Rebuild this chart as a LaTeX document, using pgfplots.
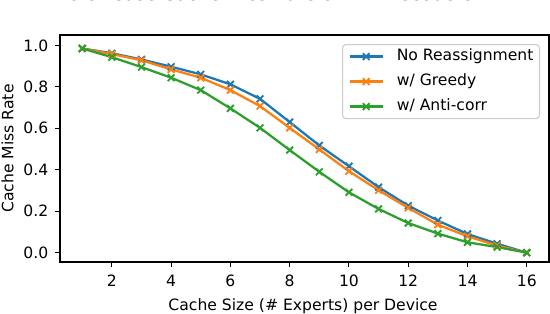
\documentclass[border=0pt]{standalone}
\usepackage{fontspec}
\setmainfont{DejaVu Sans}
\usepackage{pgfplots}
\pgfplotsset{compat=1.18}
\definecolor{tabblue}{HTML}{1F77B4}
\definecolor{taborange}{HTML}{FF7F0E}
\definecolor{tabgreen}{HTML}{2CA02C}

\begin{document}
\begin{tikzpicture}
\begin{axis}[
  name=ax,
  scale only axis,
  width=366.75pt, height=170.25pt,
  xmin=0.25, xmax=16.75, ymin=-0.045, ymax=1.05,
  xtick={2,4,...,16},
  ytick={0,0.2,0.4,0.6,0.8,1.0},
  yticklabel style={/pgf/number format/fixed, /pgf/number format/fixed zerofill,
    /pgf/number format/precision=1, anchor=east, inner sep=0pt, xshift=-4.85pt},
  xticklabel style={anchor=north, inner sep=0pt, yshift=-6pt},
  /pgf/number format/assume math mode=true,
  tick align=outside, major tick length=3.75pt,
  xtick pos=left, ytick pos=left,
  tick style={black, line width=0.8pt},
  axis line style={line width=0.8pt},
  font=\fontsize{11.7}{14}\selectfont,
  ticklabel style={font=\fontsize{11.7}{14}\selectfont},
  title={Worst-Case Cache Miss Rate on MT Decoders},
  title style={at={(0.413,1.117)}, anchor=base, inner sep=0pt, font=\fontsize{14}{17}\selectfont},
  xlabel={Cache Size (\# Experts) per Device},
  xlabel style={at={(axis description cs:0.497,0)}, anchor=base, inner sep=0pt, yshift=-36pt},
  ylabel={Cache Miss Rate},
  ylabel style={at={(axis description cs:-0.0954,0.5)}, anchor=base, inner sep=0pt},
  legend cell align=left,
  legend style={at={(0.9816,0.960)}, anchor=north east, draw=black!20, line width=0.8pt,
    rounded corners=2.5pt, fill=white, fill opacity=0.8, draw opacity=1, text opacity=1,
    inner xsep=4.5pt, inner ysep=3.5pt, row sep=7.75pt,
    nodes={inner sep=0pt, text height=8.5pt, text depth=2.5pt},
    font=\fontsize{11.7}{14}\selectfont},
  legend image code/.code={%
    \draw[mark repeat=2, mark phase=2] plot coordinates {(0pt,0pt)(12.375pt,0pt)(24.75pt,0pt)};
    \path (34.5pt,0pt);},
  every axis plot/.append style={line width=1.7pt, mark=x, mark size=3.6pt,
    mark options={line width=1.4pt, solid}},
]
\addplot[tabblue] coordinates {
  (1,0.985)(2,0.962)(3,0.932)(4,0.897)(5,0.860)(6,0.812)(7,0.742)(8,0.630)
  (9,0.517)(10,0.417)(11,0.316)(12,0.227)(13,0.155)(14,0.090)(15,0.043)(16,0.0)
};
\addlegendentry{No Reassignment}
\addplot[taborange] coordinates {
  (1,0.985)(2,0.958)(3,0.928)(4,0.884)(5,0.844)(6,0.784)(7,0.707)(8,0.602)
  (9,0.498)(10,0.393)(11,0.301)(12,0.216)(13,0.135)(14,0.079)(15,0.034)(16,0.0)
};
\addlegendentry{w/ Greedy}
\addplot[tabgreen] coordinates {
  (1,0.985)(2,0.943)(3,0.895)(4,0.844)(5,0.784)(6,0.696)(7,0.602)(8,0.495)
  (9,0.390)(10,0.291)(11,0.211)(12,0.143)(13,0.092)(14,0.050)(15,0.027)(16,0.0)
};
\addlegendentry{w/ Anti-corr}
\end{axis}
\pgfresetboundingbox
\path[use as bounding box] ([shift={(-45pt,-39pt)}]ax.south west) rectangle ([shift={(0.75pt,26.25pt)}]ax.north east);
\end{tikzpicture}
\end{document}
